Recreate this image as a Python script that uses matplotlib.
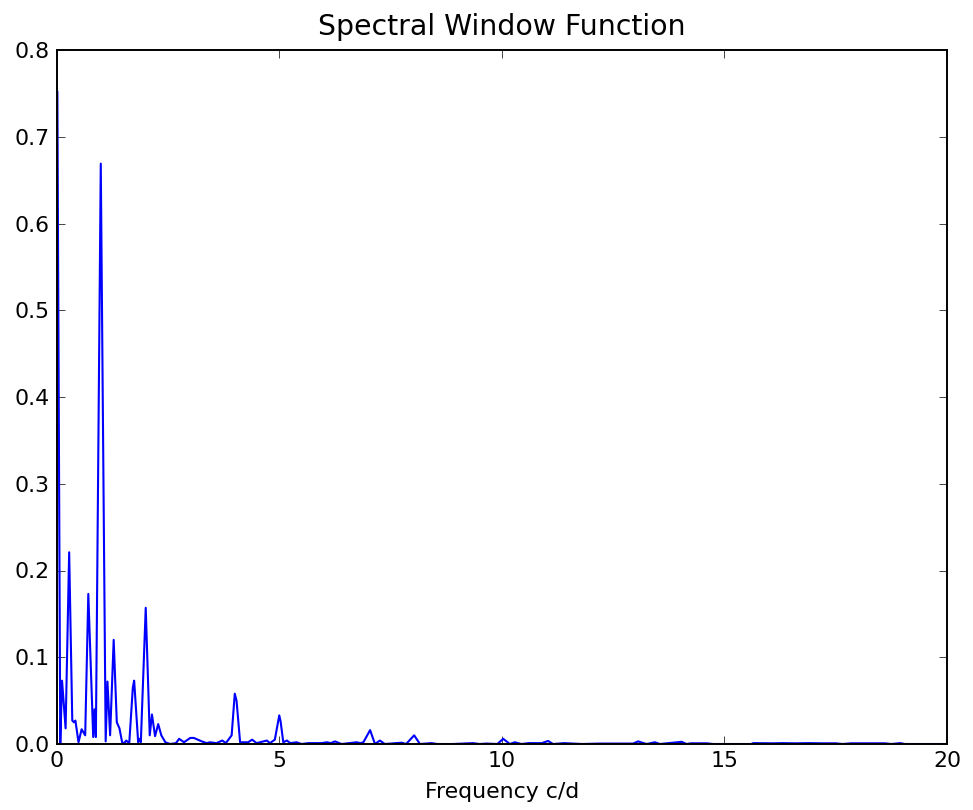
import matplotlib
matplotlib.use("Agg")
import matplotlib.pyplot as plt

freq = [0.0, 0.015, 0.08, 0.12, 0.20, 0.28, 0.35, 0.39, 0.42, 0.49, 0.56, 0.64, 0.71,
        0.82, 0.85, 0.88, 0.99, 1.10, 1.14, 1.20, 1.28, 1.35, 1.41, 1.47, 1.52, 1.56,
        1.63, 1.71, 1.74, 1.83, 1.86, 1.89, 2.00, 2.09, 2.14, 2.21, 2.28, 2.35, 2.44,
        2.55, 2.68, 2.75, 2.86, 3.00, 3.08, 3.26, 3.37, 3.44, 3.59, 3.72, 3.80, 3.93,
        4.00, 4.04, 4.12, 4.30, 4.39, 4.49, 4.72, 4.79, 4.90, 5.00, 5.03, 5.09, 5.17,
        5.25, 5.39, 5.50, 5.65, 5.95, 6.07, 6.16, 6.25, 6.40, 6.74, 6.82, 6.89, 7.04,
        7.15, 7.26, 7.37, 7.75, 7.85, 8.03, 8.16, 8.42, 8.55, 8.90, 9.35, 9.50, 9.65,
        9.90, 10.03, 10.18, 10.29, 10.44, 10.60, 10.90, 11.04, 11.15, 11.40, 11.60,
        11.80, 12.20, 12.95, 13.06, 13.25, 13.44, 13.55, 14.04, 14.15, 14.25, 14.60,
        14.75, 15.60, 15.65, 16.10, 16.30, 16.60, 16.90, 17.20, 17.50, 17.65, 17.85,
        18.60, 18.75, 18.95, 19.05, 20.0]
power = [0.754, 0.752, 0.0, 0.073, 0.018, 0.221, 0.027, 0.025, 0.027, 0.002, 0.017, 0.010, 0.173,
         0.008, 0.040, 0.008, 0.669, 0.003, 0.072, 0.010, 0.120, 0.025, 0.018, 0.002, 0.001, 0.004,
         0.001, 0.065, 0.073, 0.002, 0.006, 0.002, 0.157, 0.010, 0.034, 0.009, 0.023, 0.010, 0.002,
         0.000, 0.001, 0.006, 0.002, 0.007, 0.007, 0.003, 0.001, 0.002, 0.001, 0.004, 0.001, 0.010,
         0.058, 0.050, 0.002, 0.002, 0.005, 0.001, 0.004, 0.001, 0.005, 0.033, 0.026, 0.002, 0.004,
         0.001, 0.002, 0.000, 0.001, 0.001, 0.002, 0.001, 0.003, 0.000, 0.002, 0.001, 0.002, 0.016,
         0.000, 0.004, 0.000, 0.0015, 0.000, 0.010, 0.000, 0.001, 0.000, 0.000, 0.001, 0.000, 0.0005,
         0.000, 0.006, 0.000, 0.002, 0.000, 0.001, 0.001, 0.0035, 0.000, 0.001, 0.0005,
         0.000, 0.0005, 0.0005, 0.003, 0.000, 0.002, 0.000, 0.0025, 0.000, 0.0008, 0.0008,
         0.000, 0.000, 0.001, 0.0008, 0.001, 0.0008, 0.001, 0.0008, 0.0008, 0.000, 0.0008,
         0.0008, 0.000, 0.001, 0.000, 0.000]

xticks = [0, 5, 10, 15, 20]
yticks = [0.0, 0.1, 0.2, 0.3, 0.4, 0.5, 0.6, 0.7, 0.8]

fig = plt.figure(figsize=(9.73, 8.10), dpi=100, facecolor="white")
ax = fig.add_axes([56.7 / 973, 1 - 744 / 810, (947 - 56.7) / 973, (744 - 50) / 810])
ax.plot(freq, power, color="#0000ff", lw=1.5, zorder=2)
ax.set_xlim(0, 20)
ax.set_ylim(0, 0.8)
ax.set_xticks(xticks)
ax.set_yticks(yticks)
ax.set_xticklabels([str(t) for t in xticks])
ax.set_yticklabels([f"{t:.1f}" for t in yticks])
ax.tick_params(direction="in", length=5.8, width=0.7, top=True, right=True,
               labelsize=15.8, pad=5, color="#444444")
for s in ax.spines.values():
    s.set_linewidth(1.4)
    s.set_color("black")
    s.set_zorder(3)
ax.set_title("Spectral Window Function", fontsize=20.4, pad=11)
ax.set_xlabel("Frequency c/d", fontsize=15.8, labelpad=8)
fig.savefig("out.png", dpi=100, facecolor="white")
